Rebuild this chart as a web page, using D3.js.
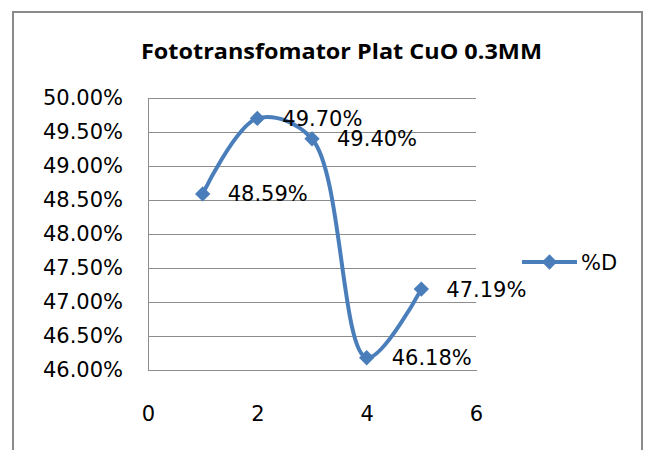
<!DOCTYPE html>
<html>
<head>
<meta charset="utf-8">
<script src="https://cdn.jsdelivr.net/npm/d3@7"></script>
<style>
  body { margin: 0; background: #fff; }
  svg { display: block; }
</style>
</head>
<body>
<div id="chart"></div>
<script>
// data
const xValues = [1, 2, 3, 4, 5];
const yValues = [48.59, 49.70, 49.40, 46.18, 47.19];
const pointLabels = ["48.59%", "49.70%", "49.40%", "46.18%", "47.19%"];
const yTicks = [46, 46.5, 47, 47.5, 48, 48.5, 49, 49.5, 50];
const xTicks = [0, 2, 4, 6];
const seriesName = "%D";
const title = "Fototransfomator Plat CuO 0.3MM";

const W = 646, H = 450;
const margin = { top: 98, right: 170, bottom: 80, left: 148 };
const width = W - margin.left - margin.right,   // 328
      height = H - margin.top - margin.bottom;  // 272

const blue = "#4a7ebb";
const grid = "#8c8c8c";
const numFont = "DejaVu Sans";

const svg = d3.select("#chart")
  .append("svg")
    .attr("width", W)
    .attr("height", H);

// outer chart border (bottom runs off the picture)
svg.append("rect")
  .attr("x", 13).attr("y", 12)
  .attr("width", 629).attr("height", 460)
  .attr("fill", "none")
  .attr("stroke", "#8a8a8a")
  .attr("stroke-width", 2);

svg.append("text")
  .attr("x", 141).attr("y", 59)
  .attr("font-family", "Open Sans, Liberation Sans, sans-serif")
  .attr("font-weight", "bold")
  .attr("font-size", 21)
  .attr("textLength", 401)
  .attr("lengthAdjust", "spacingAndGlyphs")
  .text(title);

const g = svg.append("g")
  .attr("transform", "translate(" + margin.left + "," + margin.top + ")");

const x = d3.scaleLinear().domain([0, 6]).range([0, width]);
const y = d3.scaleLinear().domain([46, 50]).range([height, 0]);

// gridlines
g.selectAll(".grid")
  .data(yTicks)
  .enter()
  .append("line")
    .attr("x1", 0).attr("x2", width)
    .attr("y1", d => y(d)).attr("y2", d => y(d))
    .attr("stroke", grid)
    .attr("stroke-width", 1)
    .attr("shape-rendering", "crispEdges");

// Y axis
const yAxis = g.append("g")
  .call(d3.axisLeft(y).tickValues(yTicks).tickSize(0).tickPadding(25)
    .tickFormat(d => d.toFixed(2) + "%"));
yAxis.select(".domain").attr("stroke", grid).attr("shape-rendering", "crispEdges");
yAxis.selectAll("text")
  .attr("font-family", numFont)
  .attr("font-size", 21)
  .attr("fill", "#000");

// X axis
const xAxis = g.append("g")
  .attr("transform", "translate(0," + height + ")")
  .call(d3.axisBottom(x).tickValues(xTicks).tickSize(0).tickPadding(36)
    .tickFormat(d3.format("d")));
xAxis.select(".domain").attr("stroke", grid).attr("shape-rendering", "crispEdges");
xAxis.selectAll("text")
  .attr("font-family", numFont)
  .attr("font-size", 21)
  .attr("fill", "#000");

const pts = xValues.map((d, i) => [d, yValues[i]]);

// smoothed line (Excel-style)
const line = d3.line()
  .x(d => x(d[0]))
  .y(d => y(d[1]))
  .curve(d3.curveCatmullRom.alpha(0.5));

g.append("path")
  .datum(pts)
  .attr("d", line)
  .attr("fill", "none")
  .attr("stroke", blue)
  .attr("stroke-width", 4)
  .attr("stroke-linecap", "round");

const diamond = d3.symbol().type(d3.symbolDiamond2).size(150);

g.selectAll(".pt")
  .data(pts)
  .enter()
  .append("path")
    .attr("d", diamond)
    .attr("transform", d => "translate(" + x(d[0]) + "," + y(d[1]) + ")")
    .attr("fill", blue);

g.selectAll(".lbl")
  .data(pts)
  .enter()
  .append("text")
    .attr("x", d => x(d[0]) + 25)
    .attr("y", d => y(d[1]))
    .attr("dy", "0.36em")
    .attr("font-family", numFont)
    .attr("font-size", 21)
    .attr("fill", "#000")
    .text((d, i) => pointLabels[i]);

// legend
const lg = svg.append("g").attr("transform", "translate(522,262)");
lg.append("line")
  .attr("x1", 0).attr("x2", 55)
  .attr("stroke", blue).attr("stroke-width", 4);
lg.append("path")
  .attr("d", diamond)
  .attr("transform", "translate(27.5,0)")
  .attr("fill", blue);
lg.append("text")
  .attr("x", 59).attr("dy", "0.36em")
  .attr("font-family", numFont)
  .attr("font-size", 21)
  .text(seriesName);
</script>
</body>
</html>
